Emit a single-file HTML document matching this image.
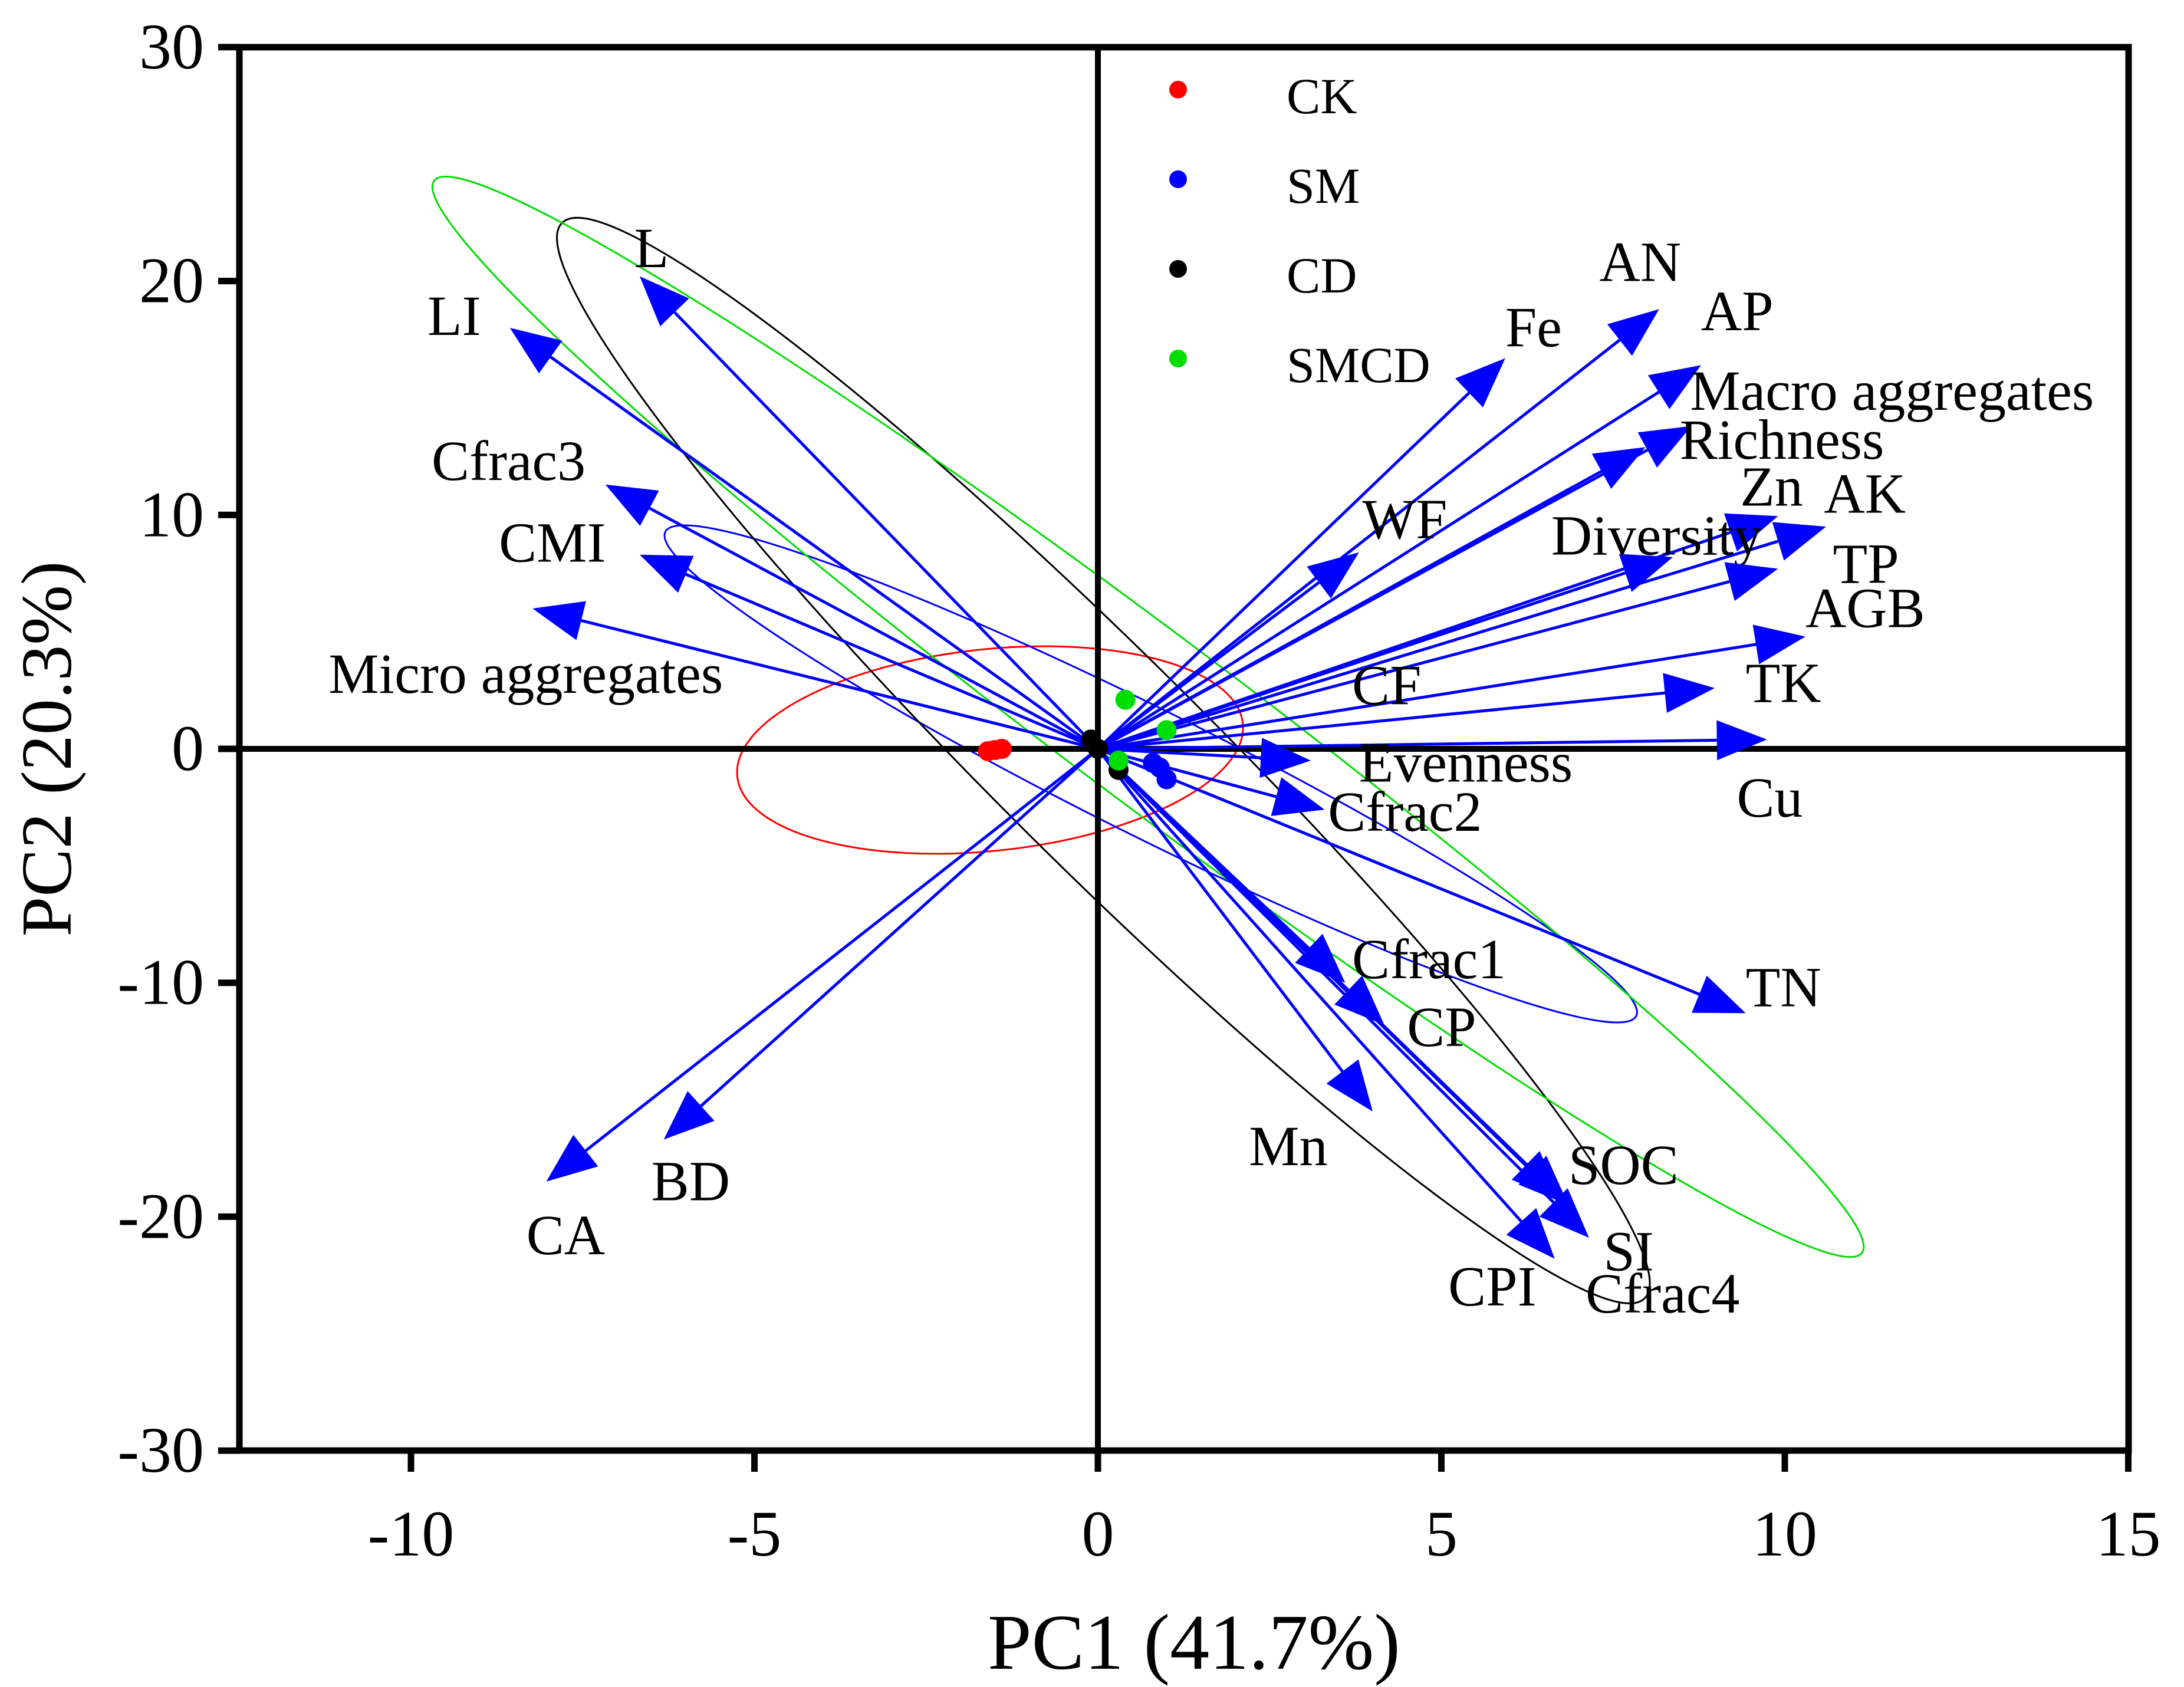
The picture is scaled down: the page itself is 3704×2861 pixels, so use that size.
<!DOCTYPE html>
<html><head><meta charset="utf-8"><style>
html,body{margin:0;padding:0;background:#fff}
svg{display:block}
text{font-family:"Liberation Serif",serif;fill:#000}
</style></head><body>
<svg id="chart" width="3704" height="2861" viewBox="0 0 3704 2861" xmlns="http://www.w3.org/2000/svg"></svg>
<script>
// ---- data ----
const xTicks=[-10,-5,0,5,10,15];
const yTicks=[30,20,10,0,-10,-20,-30];
const varNames=["L","LI","Cfrac3","CMI","Micro aggregates","CA","BD","Fe","AN","AP","Macro aggregates","Richness","WF","Zn","AK","Diversity","TP","AGB","TK","Cu","Evenness","Cfrac2","TN","Cfrac1","CP","Mn","SOC","SI","CPI","Cfrac4"];
const varX=[-6.67,-8.56,-7.17,-6.67,-8.23,-8.03,-6.32,5.93,8.17,8.78,8.64,7.97,3.80,9.9,10.6,8.37,9.9,10.3,8.98,9.74,3.1,3.3,9.43,3.6,4.17,4.0,6.85,7.15,6.65,6.75];
const varY=[20.2,18.0,11.3,8.3,6.0,-18.5,-16.7,16.7,18.8,16.4,13.8,12.9,8.4,9.95,9.5,8.2,7.7,4.8,2.6,0.4,-0.5,-2.6,-11.3,-10,-11.8,-15.5,-19.5,-20.9,-21.8,-19.3];
const groups=["CK","SM","CD","SMCD"];
const groupColors=["#ff0000","#0000ff","#000000","#00dd00"];
const ptX=[[-1.6,-1.5,-1.4],[0.8,1.0,0.9],[-0.1,0.3,0.0],[0.4,1.0,0.3]];
const ptY=[[-0.1,-0.05,0],[-0.6,-1.3,-0.8],[0.4,-0.9,0.0],[2.1,0.8,-0.5]];
const ellCX=[-1.57,0.77,0.08,0.73];
const ellCY=[-0.05,-1.07,-0.5,1.37];
const ellRot=[-6,26.5,44.8,36.9];
</script>
<script>
const svg=document.getElementById('chart');
const NS='http://www.w3.org/2000/svg';
const X=x=>1862+x*116.5, Y=y=>1270-y*39.67;
function mk(t,a,p){const e=document.createElementNS(NS,t);for(const k in a)e.setAttribute(k,a[k]);(p||svg).appendChild(e);return e;}
const lx=[-6.75,-9.76,-9.7,-8.72,-11.2,-8.32,-6.5,5.93,7.3,8.78,8.62,8.47,3.85,9.35,10.57,6.6,10.7,10.3,9.43,9.3,3.8,3.35,9.43,3.7,4.5,2.2,6.85,7.36,5.1,7.1];
const ly=[20.6,17.7,11.5,8.0,2.4,-21.6,-19.3,17.2,20.0,17.9,14.5,12.4,9.0,10.4,10.1,8.3,7.1,5.2,2.0,-2.9,-1.4,-3.5,-11.0,-9.8,-12.7,-17.8,-18.6,-22.3,-23.8,-24.1];
const ellMaj=[431,920,1294,1514];
const ellMin=[171,107,178,142];
const L=406,R=3610,T=80,B=2460;
mk('rect',{x:L,y:T,width:R-L,height:B-T,fill:'none',stroke:'#000','stroke-width':11,});
for(let i=0;i<4;i++){
  const e=mk('ellipse',{cx:X(ellCX[i]),cy:Y(ellCY[i]),rx:ellMaj[i],ry:ellMin[i],fill:'none',stroke:groupColors[i],'stroke-width':3,transform:`rotate(${ellRot[i]} ${X(ellCX[i])} ${Y(ellCY[i])})`});
  
  
}
mk('line',{x1:X(0),y1:T,x2:X(0),y2:B,stroke:'#000','stroke-width':10,});
mk('line',{x1:L,y1:Y(0),x2:R,y2:Y(0),stroke:'#000','stroke-width':10,});
xTicks.forEach(v=>{
  const x=X(v);
  const t=mk('line',{x1:x,y1:B,x2:x,y2:B+36,stroke:'#000','stroke-width':11});
  
  
  const s=mk('text',{x:x,y:B+178,'font-size':110,'text-anchor':'middle'});s.textContent=v;
  
  
});
yTicks.forEach(v=>{
  const y=Y(v);
  const t=mk('line',{x1:L-36,y1:y,x2:L,y2:y,stroke:'#000','stroke-width':11});
  
  
  const s=mk('text',{x:L-60,y:y+36,'font-size':110,'text-anchor':'end'});s.textContent=v;
  
  
});
varNames.forEach((n,i)=>{
  const x0=X(0),y0=Y(0),x1=X(varX[i]),y1=Y(varY[i]);
  const dx=x1-x0,dy=y1-y0,len=Math.hypot(dx,dy),ux=dx/len,uy=dy/len;
  const hl=85,hw=34;
  const bx=x1-ux*hl,by=y1-uy*hl;
  const g=mk('g',{});
  
  
  mk('line',{x1:x0,y1:y0,x2:bx,y2:by,stroke:'#0000ff','stroke-width':5},g);
  mk('polygon',{points:`${x1},${y1} ${bx-uy*hw},${by+ux*hw} ${bx+uy*hw},${by-ux*hw}`,fill:'#0000ff'},g);
  const t=mk('text',{x:X(lx[i]),y:Y(ly[i]),'font-size':96});t.textContent=n;
  
  
});
const cf=mk('text',{x:X(3.7),y:Y(1.9),'font-size':96});cf.textContent='CF';


groups.forEach((g,i)=>{
  ptX[i].forEach((v,j)=>{
    const c=mk('circle',{cx:X(v),cy:Y(ptY[i][j]),r:17,fill:groupColors[i]});
    
    
  });
});
groups.forEach((g,i)=>{
  const y=152+i*152;
  const c=mk('circle',{cx:1998,cy:y,r:15,fill:groupColors[i]});
  
  
  const t=mk('text',{x:2182,y:y+40,'font-size':86});t.textContent=g;
  
  
});
const xt=mk('text',{x:2025,y:2830,'font-size':134,'text-anchor':'middle'});xt.textContent='PC1 (41.7%)';


const yt=mk('text',{x:0,y:0,'font-size':122,'text-anchor':'middle',transform:'translate(120,1270) rotate(-90)'});yt.textContent='PC2 (20.3%)';


</script>
</body></html>
